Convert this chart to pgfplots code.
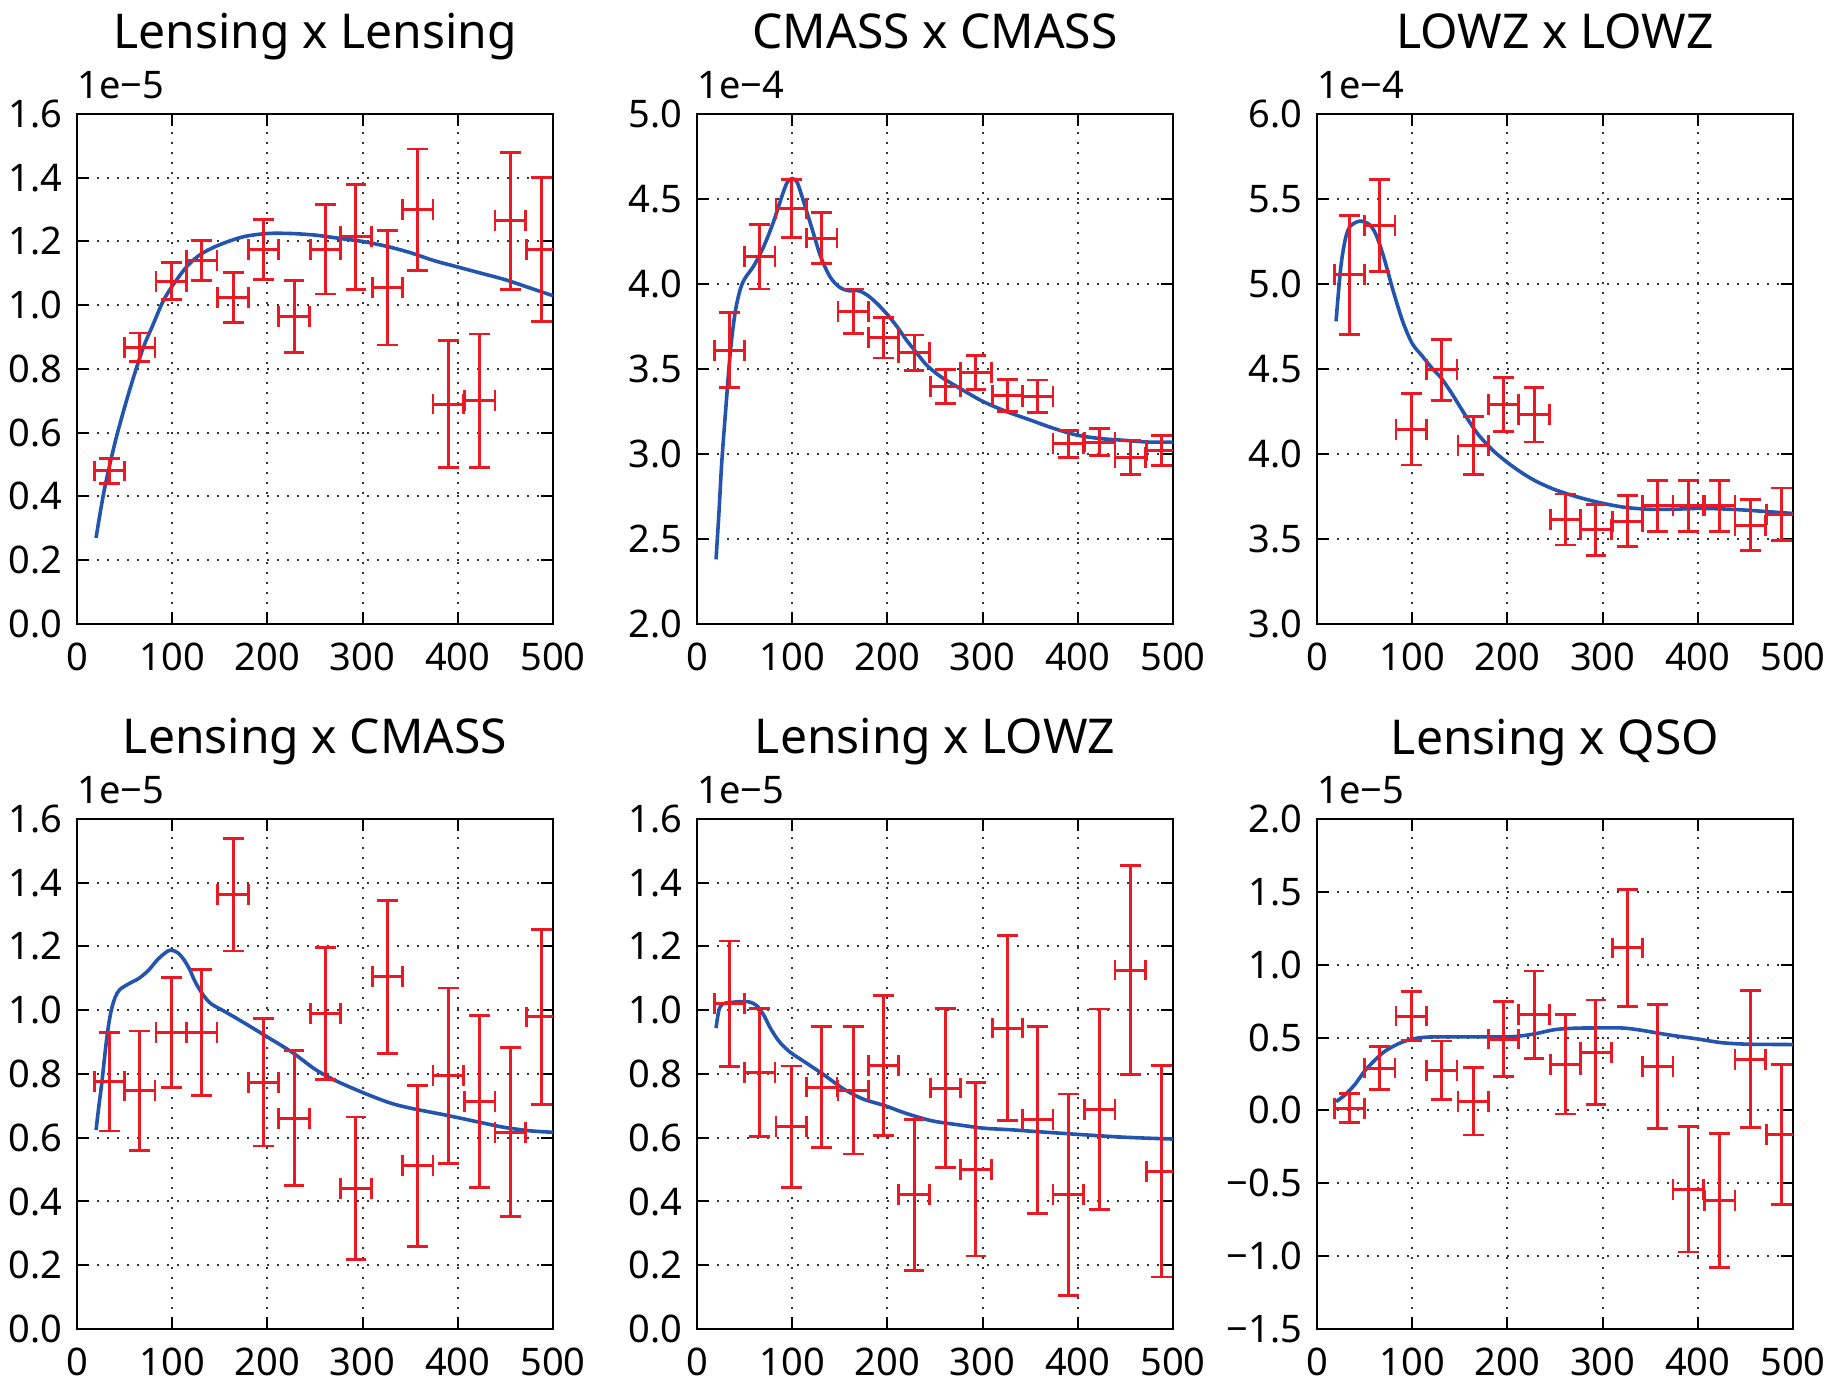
\documentclass[border=0pt]{standalone}
\usepackage{fontspec}
\setmainfont{Noto Sans}
\usepackage{pgfplots}
\pgfplotsset{compat=1.18}
\definecolor{mplblue}{RGB}{35,85,175}
\definecolor{mplred}{RGB}{235,25,35}
\newcommand{\tickfont}{\fontsize{9.5}{11}\selectfont}
\pgfplotsset{
  panel/.style={
    scale only axis, width=119pt, height=127.5pt,
    xmin=0, xmax=500,
    xtick={0,100,200,300,400,500},
    xticklabels={0,100,200,300,400,500},
    grid=major,
    major grid style={line width=0.5pt, black!80, dash pattern=on 0.6pt off 1.9pt},
    tick align=inside, major tick length=3pt,
    tick style={black, line width=0.5pt},
    axis line style={line width=0.6pt},
    xticklabel style={font=\tickfont, inner sep=0pt, yshift=-4.5pt},
    yticklabel style={font=\tickfont, inner sep=0pt, xshift=-3.5pt},
    every axis title/.style={at={(0.5,1)}, anchor=base, yshift=16.25pt, font=\fontsize{12}{14}\selectfont, inner sep=0pt},
  },
  offset/.style={after end axis/.code={\node[anchor=south west, inner sep=0pt, font=\tickfont] at (rel axis cs:0,1) [yshift=3.5pt] {#1};}},
  errpts/.style={draw=none, mark=none,
    error bars/.cd, x dir=both, x explicit, y dir=both, y explicit,
    error bar style={draw=mplred, line width=0.75pt},
    error mark options={draw=mplred, rotate=90, mark size=2.6pt, line width=0.7pt}},
  model/.style={mplblue, line width=0.9pt, smooth, mark=none},
}
\begin{document}
\begin{tikzpicture}
% ---------------- Row 1 ----------------
\begin{axis}[panel, at={(0pt,176.25pt)}, title={Lensing x Lensing}, offset={1e−5},
  ymin=0, ymax=1.6, ytick={0,0.2,0.4,0.6,0.8,1.0,1.2,1.4,1.6},
  yticklabels={0.0,0.2,0.4,0.6,0.8,1.0,1.2,1.4,1.6}]
\addplot[model] coordinates {(20,0.27) (25,0.36) (30,0.44) (40,0.57) (50,0.68) (60,0.78) (70,0.87) (80,0.94) (90,1.01) (100,1.06) (115,1.12) (130,1.16) (150,1.19) (175,1.215) (200,1.225) (225,1.225) (250,1.22) (275,1.21) (300,1.20) (325,1.185) (350,1.165) (375,1.14) (400,1.12) (425,1.10) (450,1.08) (475,1.055) (500,1.03)};
\addplot[errpts] table[x=x, y=y, x error=ex, y error=ey] {
x y ex ey
34 0.48 16 0.04
66 0.868 16 0.045
99 1.075 16 0.058
131 1.14 16 0.063
164 1.025 16 0.078
196 1.175 16 0.095
228 0.965 16 0.113
261 1.175 16 0.14
293 1.215 16 0.165
326 1.055 16 0.18
358 1.30 16 0.19
390 0.69 16 0.20
423 0.70 16 0.21
455 1.265 16 0.215
488 1.175 16 0.225
};
\end{axis}

\begin{axis}[panel, at={(155pt,176.25pt)}, title={CMASS x CMASS}, offset={1e−4},
  ymin=2, ymax=5, ytick={2,2.5,3,3.5,4,4.5,5},
  yticklabels={2.0,2.5,3.0,3.5,4.0,4.5,5.0}]
\addplot[model] coordinates {(20,2.38) (23,2.65) (26,2.95) (30,3.25) (35,3.6) (40,3.83) (45,3.96) (50,4.03) (60,4.11) (70,4.22) (80,4.36) (90,4.53) (95,4.6) (100,4.62) (105,4.6) (110,4.52) (120,4.34) (130,4.16) (140,4.04) (150,3.98) (160,3.96) (170,3.96) (180,3.93) (190,3.88) (200,3.82) (210,3.75) (220,3.67) (230,3.6) (240,3.53) (250,3.48) (260,3.44) (275,3.39) (300,3.31) (325,3.25) (350,3.2) (375,3.15) (400,3.11) (425,3.09) (450,3.08) (475,3.07) (500,3.07)};
\addplot[errpts] table[x=x, y=y, x error=ex, y error=ey] {
x y ex ey
34 3.61 16 0.22
66 4.16 16 0.19
99 4.445 16 0.17
131 4.27 16 0.15
164 3.84 16 0.13
196 3.685 16 0.12
228 3.595 16 0.105
261 3.395 16 0.10
293 3.48 16 0.10
326 3.345 16 0.093
358 3.34 16 0.095
390 3.06 16 0.08
423 3.07 16 0.08
455 2.98 16 0.10
488 3.02 16 0.09
};
\end{axis}

\begin{axis}[panel, at={(310pt,176.25pt)}, title={LOWZ x LOWZ}, offset={1e−4},
  ymin=3, ymax=6, ytick={3,3.5,4,4.5,5,5.5,6},
  yticklabels={3.0,3.5,4.0,4.5,5.0,5.5,6.0}]
\addplot[model] coordinates {(20,4.78) (25,5.1) (30,5.27) (35,5.34) (45,5.37) (55,5.35) (62,5.29) (70,5.16) (80,4.96) (90,4.78) (100,4.65) (110,4.58) (120,4.51) (130,4.45) (140,4.37) (150,4.28) (160,4.19) (170,4.11) (185,4.02) (200,3.95) (215,3.89) (230,3.84) (250,3.79) (275,3.745) (300,3.71) (325,3.685) (350,3.675) (375,3.675) (400,3.68) (425,3.677) (450,3.67) (475,3.66) (500,3.65)};
\addplot[errpts] table[x=x, y=y, x error=ex, y error=ey] {
x y ex ey
34 5.055 16 0.35
66 5.345 16 0.27
99 4.145 16 0.21
131 4.495 16 0.18
164 4.05 16 0.17
196 4.29 16 0.16
228 4.23 16 0.16
261 3.615 16 0.15
293 3.555 16 0.15
326 3.605 16 0.15
358 3.695 16 0.15
390 3.695 16 0.15
423 3.695 16 0.15
455 3.58 16 0.15
488 3.645 16 0.155
};
\end{axis}

% ---------------- Row 2 ----------------
\begin{axis}[panel, at={(0pt,0pt)}, title={Lensing x CMASS}, offset={1e−5},
  ymin=0, ymax=1.6, ytick={0,0.2,0.4,0.6,0.8,1.0,1.2,1.4,1.6},
  yticklabels={0.0,0.2,0.4,0.6,0.8,1.0,1.2,1.4,1.6}]
\addplot[model] coordinates {(20,0.624) (23,0.70) (26,0.77) (30,0.88) (33,0.95) (36,1.0) (40,1.04) (45,1.065) (55,1.084) (65,1.10) (75,1.125) (85,1.16) (95,1.185) (100,1.188) (106,1.18) (112,1.16) (118,1.13) (124,1.09) (132,1.05) (141,1.02) (157,0.993) (177,0.958) (200,0.916) (226,0.868) (250,0.815) (271,0.78) (300,0.742) (328,0.71) (350,0.693) (389,0.67) (430,0.644) (450,0.632) (475,0.622) (500,0.617)};
\addplot[errpts] table[x=x, y=y, x error=ex, y error=ey] {
x y ex ey
34 0.776 16 0.155
66 0.748 16 0.187
99 0.93 16 0.173
131 0.93 16 0.198
164 1.363 16 0.177
196 0.774 16 0.20
228 0.661 16 0.212
261 0.99 16 0.207
293 0.442 16 0.223
326 1.105 16 0.24
358 0.512 16 0.253
390 0.795 16 0.275
423 0.714 16 0.27
455 0.617 16 0.265
488 0.979 16 0.275
};
\end{axis}

\begin{axis}[panel, at={(155pt,0pt)}, title={Lensing x LOWZ}, offset={1e−5},
  ymin=0, ymax=1.6, ytick={0,0.2,0.4,0.6,0.8,1.0,1.2,1.4,1.6},
  yticklabels={0.0,0.2,0.4,0.6,0.8,1.0,1.2,1.4,1.6}]
\addplot[model] coordinates {(20,0.944) (23,1.0) (27,1.02) (35,1.024) (45,1.027) (55,1.026) (63,1.014) (70,0.985) (76,0.95) (82,0.92) (88,0.896) (98,0.868) (112,0.84) (133,0.798) (153,0.755) (174,0.722) (198,0.70) (219,0.677) (247,0.653) (276,0.64) (301,0.63) (330,0.625) (358,0.619) (403,0.61) (440,0.603) (470,0.599) (500,0.596)};
\addplot[errpts] table[x=x, y=y, x error=ex, y error=ey] {
x y ex ey
34 1.02 16 0.197
66 0.805 16 0.20
99 0.635 16 0.19
131 0.759 16 0.19
164 0.749 16 0.20
196 0.826 16 0.22
228 0.421 16 0.237
261 0.756 16 0.25
293 0.501 16 0.272
326 0.944 16 0.29
358 0.656 16 0.294
390 0.421 16 0.316
423 0.689 16 0.315
455 1.126 16 0.327
488 0.495 16 0.332
};
\end{axis}

\begin{axis}[panel, at={(310pt,0pt)}, title={Lensing x QSO}, offset={1e−5},
  ymin=-1.5, ymax=2, ytick={-1.5,-1,-0.5,0,0.5,1,1.5,2},
  yticklabels={−1.5,−1.0,−0.5,0.0,0.5,1.0,1.5,2.0}]
\addplot[model] coordinates {(20,0.06) (30,0.11) (40,0.18) (50,0.27) (60,0.34) (70,0.40) (80,0.44) (90,0.47) (100,0.49) (115,0.503) (140,0.505) (170,0.505) (200,0.505) (215,0.512) (230,0.527) (250,0.555) (270,0.564) (290,0.566) (320,0.566) (340,0.551) (368,0.52) (400,0.49) (425,0.465) (450,0.455) (475,0.453) (500,0.452)};
\addplot[errpts] table[x=x, y=y, x error=ex, y error=ey] {
x y ex ey
34 0.015 16 0.10
66 0.291 16 0.15
99 0.648 16 0.17
131 0.276 16 0.20
164 0.062 16 0.23
196 0.49 16 0.255
228 0.657 16 0.30
261 0.316 16 0.34
293 0.398 16 0.36
326 1.115 16 0.40
358 0.30 16 0.425
390 -0.542 16 0.43
423 -0.618 16 0.46
455 0.352 16 0.47
488 -0.166 16 0.48
};
\end{axis}
\pgfresetboundingbox
\useasboundingbox (-19.25pt,-13pt) rectangle (438.5pt,332.25pt);
\end{tikzpicture}
\end{document}
